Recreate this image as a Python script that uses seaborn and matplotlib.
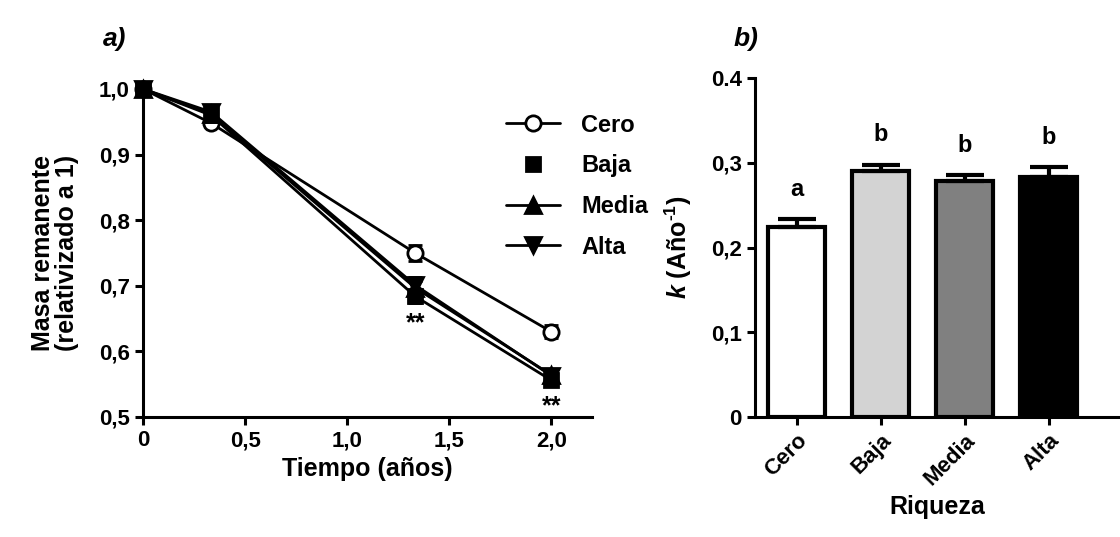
import numpy as np
import pandas as pd
import seaborn as sns
from matplotlib import pyplot as plt
from matplotlib.lines import Line2D

# panel a: remaining mass
tiempo = [0, 0.333, 1.333, 2.0]
grupos = ["Cero", "Baja", "Media", "Alta"]
masa = {
    "Cero": [1.0, 0.948, 0.750, 0.630],
    "Baja": [1.0, 0.960, 0.684, 0.556],
    "Media": [1.0, 0.962, 0.697, 0.564],
    "Alta": [1.0, 0.965, 0.701, 0.563],
}
masa_err = {
    "Cero": [0.004, 0.005, 0.012, 0.010],
    "Baja": [0.004, 0.006, 0.010, 0.008],
    "Media": [0.004, 0.006, 0.010, 0.008],
    "Alta": [0.004, 0.007, 0.013, 0.009],
}
marcadores = {"Cero": "o", "Baja": "s", "Media": "^", "Alta": "v"}

# panel b: decomposition rate
k_vals = [0.224, 0.290, 0.279, 0.283]
k_err = [0.010, 0.008, 0.007, 0.012]
letras = ["a", "b", "b", "b"]
colores = ["white", "#d3d3d3", "#808080", "black"]

sns.set_style("ticks")
plt.rcParams["font.family"] = ["Liberation Sans", "DejaVu Sans"]
plt.rcParams["font.weight"] = "bold"
plt.rcParams["axes.labelweight"] = "bold"
plt.rcParams["text.color"] = "black"
plt.rcParams["axes.labelcolor"] = "black"
plt.rcParams["axes.edgecolor"] = "black"
plt.rcParams["axes.linewidth"] = 2.2
plt.rcParams["xtick.major.width"] = 2.2
plt.rcParams["ytick.major.width"] = 2.2
plt.rcParams["xtick.major.size"] = 6
plt.rcParams["ytick.major.size"] = 6
plt.rcParams["xtick.color"] = "black"
plt.rcParams["ytick.color"] = "black"
plt.rcParams["mathtext.fontset"] = "custom"
plt.rcParams["mathtext.rm"] = "Liberation Sans:bold"
plt.rcParams["mathtext.bf"] = "Liberation Sans:bold"
plt.rcParams["mathtext.it"] = "Liberation Sans:bold:italic"

fig = plt.figure(figsize=(11.2, 5.37), dpi=100)
ax1 = fig.add_axes([0.1277, 0.2235, 0.401, 0.6108])
ax2 = fig.add_axes([0.674, 0.2235, 0.3259, 0.631])

# ---- panel a
df = pd.DataFrame({
    "t": np.tile(tiempo, len(grupos)),
    "m": np.concatenate([masa[g] for g in grupos]),
    "e": np.concatenate([masa_err[g] for g in grupos]),
    "g": np.repeat(grupos, len(tiempo)),
})
for g in grupos:
    d = df[df.g == g]
    ax1.errorbar(d.t, d.m, yerr=d.e, fmt="none", ecolor="black",
                 elinewidth=2, capsize=5, capthick=2, clip_on=False, zorder=2)
    sns.lineplot(data=d, x="t", y="m", ax=ax1, color="black", lw=2,
                 marker=marcadores[g], markersize=11 if g != "Baja" else 10,
                 mfc="white" if g == "Cero" else "black", mec="black",
                 mew=2, clip_on=False, zorder=3)

ax1.set_xlim(0, 2.2)
ax1.set_ylim(0.5, 1.0)
ax1.set_xticks([0, 0.5, 1.0, 1.5, 2.0], ["0", "0,5", "1,0", "1,5", "2,0"])
ax1.set_yticks([0.5, 0.6, 0.7, 0.8, 0.9, 1.0],
               ["0,5", "0,6", "0,7", "0,8", "0,9", "1,0"])
ax1.tick_params(labelsize=16)
ax1.set_xlabel("Tiempo (años)", fontsize=18, labelpad=4)
ax1.set_ylabel("Masa remanente\n(relativizado a 1)", fontsize=18,
               linespacing=1.0, labelpad=14)
sns.despine(ax=ax1)

ax1.text(1.333, 0.643, "**", ha="center", va="center", fontsize=18)
ax1.text(2.0, 0.516, "**", ha="center", va="center", fontsize=18)

handles = []
for g in grupos:
    handles.append(Line2D([], [], color="black", lw=2 if g != "Baja" else 0,
                          marker=marcadores[g], markersize=11 if g != "Baja" else 10,
                          mfc="white" if g == "Cero" else "black",
                          mec="black", mew=2))
ax1.legend(handles, grupos, loc="upper left", bbox_to_anchor=(0.76, 0.99),
           frameon=False, handlelength=2.3, labelspacing=0.75,
           handletextpad=0.9, prop={"weight": "bold", "size": 17})

fig.text(0.092, 0.915, "a)", fontsize=19, fontweight="bold", style="italic")

# ---- panel b
dfb = pd.DataFrame({"Riqueza": grupos, "k": k_vals})
sns.barplot(data=dfb, x="Riqueza", y="k", hue="Riqueza", palette=colores,
            edgecolor="black", linewidth=3, width=0.68, ax=ax2,
            legend=False, saturation=1)
ax2.errorbar(range(4), k_vals, yerr=[np.zeros(4), k_err], fmt="none",
             ecolor="black", elinewidth=3, capsize=14, capthick=3, zorder=1)
for i, (v, e, l) in enumerate(zip(k_vals, k_err, letras)):
    ax2.text(i, v + e + 0.035, l, ha="center", va="center", fontsize=17)

ax2.set_xlim(-0.5, 3.845)
ax2.set_ylim(0, 0.4)
ax2.set_yticks([0, 0.1, 0.2, 0.3, 0.4], ["0", "0,1", "0,2", "0,3", "0.4"])
ax2.tick_params(axis="y", labelsize=16)
ax2.tick_params(axis="x", labelsize=16, rotation=45)
for lab in ax2.get_xticklabels():
    lab.set_ha("right")
    lab.set_rotation_mode("anchor")
ax2.set_xlabel("Riqueza", fontsize=18)
ax2.set_ylabel(r"$\mathit{k}$ (Año$^{\text{-1}}$)", fontsize=18, labelpad=12)
sns.despine(ax=ax2)

fig.text(0.655, 0.915, "b)", fontsize=19, fontweight="bold", style="italic")

fig.savefig("out.png", dpi=100)
